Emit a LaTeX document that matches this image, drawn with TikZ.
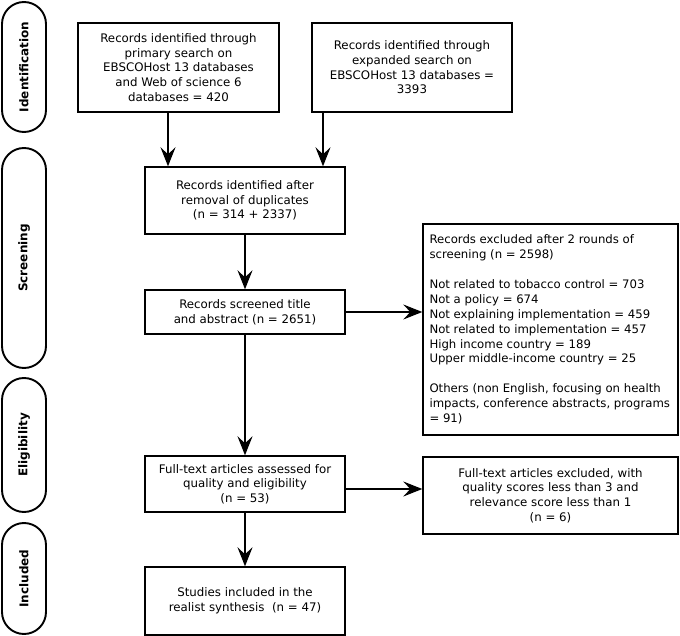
\documentclass[tikz,border=0pt]{standalone}
\usepackage{fontspec}
\setmainfont{DejaVu Sans}
\usetikzlibrary{positioning, arrows.meta}

\begin{document}
\begin{tikzpicture}[x=1pt, y=1pt, node distance = 100pt, on grid,
  box/.style = {draw, line width=1.4pt, minimum width=200pt, align=center,
    font=\fontsize{11.8}{14.7}\selectfont},
  note/.style = {box, minimum width=255pt, text width=242pt, inner xsep=6.5pt, align=flush left},
  stage/.style = {draw, line width=1.9pt, rounded corners=22pt, minimum height=44pt,
    rotate=90, font=\bfseries\fontsize{12}{14}\selectfont},
  arr/.style = {-{Stealth[length=19pt, width=15pt, inset=7pt]}, line width=1.5pt}]
  \useasboundingbox (0,0) rectangle (680,-636);
  % stages on the left
  \node[stage, minimum width=130pt] (ident) at (24,-67) {Identification};
  \node[stage, minimum width=220pt] (screen) at (24,-258) {Screening};
  \node[stage, minimum width=134pt] (elig) at (24,-445) {Eligibility};
  \node[stage, minimum width=111pt] (incl) at (24,-578.5) {Included};
  % main column
  \node[box, minimum width=201pt, minimum height=89pt] (prim) at (178.5,-67.5)
    {Records identified through\\ primary search on\\ EBSCOHost 13 databases\\ and Web of science 6\\ databases = 420};
  \node[box, minimum height=89pt] (expd) at (412,-67.5)
    {Records identified through\\ expanded search on\\ EBSCOHost 13 databases =\\ 3393};
  \node[box, minimum height=67pt] (dedup) at (245,-200.5)
    {Records identified after\\ removal of duplicates\\ (n = 314 + 2337)};
  \node[box, minimum height=44pt] (scrn) [below=111.5pt of dedup]
    {Records screened title\\ and abstract (n = 2651)};
  \node[box, minimum height=56pt] (full) [below=172pt of scrn]
    {Full-text articles assessed for\\ quality and eligibility\\ (n = 53)};
  \node[box, minimum height=68pt] (final) [below=117pt of full]
    {Studies included in the\\ realist synthesis~~(n = 47)};
  % exclusions
  \node[note, minimum height=211pt, font=\fontsize{11.7}{14.9}\selectfont] (excl) at (550.5,-329.5)
    {Records excluded after 2 rounds of\\ screening (n = 2598)\\[\baselineskip]
     Not related to tobacco control = 703\\ Not a policy = 674\\
     Not explaining implementation = 459\\ Not related to implementation = 457\\
     High income country = 189\\ Upper middle-income country = 25\\[\baselineskip]
     Others (non English, focusing on health\\ impacts, conference abstracts, programs\\ = 91)};
  \node[box, minimum width=255pt, minimum height=77pt] (exclft) at (550.5,-495.5)
    {Full-text articles excluded, with\\ quality scores less than 3 and\\ relevance score less than 1\\ (n = 6)};
  % arrows
  \coordinate (inL) at ([xshift=-77pt]dedup.north);
  \coordinate (inR) at ([xshift=78pt]dedup.north);
  \draw[arr] (prim.south -| inL) -- (inL);
  \draw[arr] (expd.south -| inR) -- (inR);
  \draw[arr] (dedup) -- (scrn);
  \draw[arr] (scrn) -- (full);
  \draw[arr] (full) -- (final);
  \draw[arr] (scrn.east) -- (scrn.east -| excl.west);
  \draw[arr] ([yshift=-5pt]full.east) -- ([yshift=-5pt]full.east -| exclft.west);
\end{tikzpicture}
\end{document}
